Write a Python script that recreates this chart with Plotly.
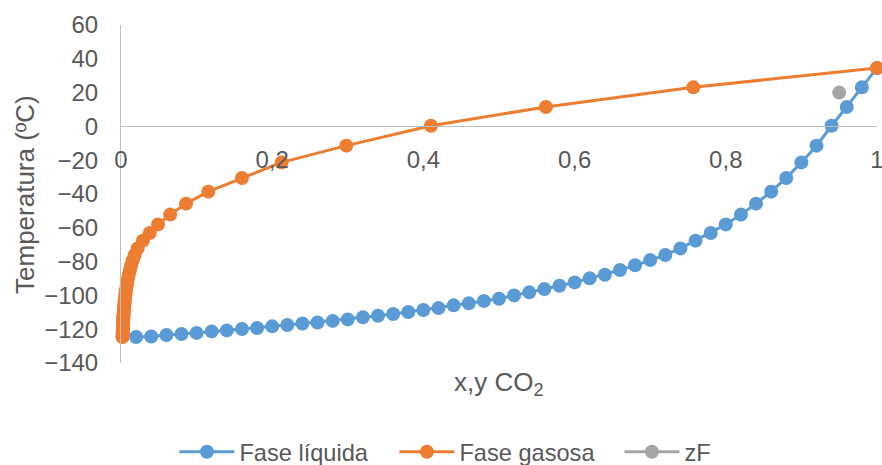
import plotly.graph_objects as go

# Liquid phase: x CO2 and temperature (ºC)
x_liq = [0.02, 0.04, 0.06, 0.08, 0.10, 0.12, 0.14, 0.16, 0.18, 0.20,
         0.22, 0.24, 0.26, 0.28, 0.30, 0.32, 0.34, 0.36, 0.38, 0.40,
         0.42, 0.44, 0.46, 0.48, 0.50, 0.52, 0.54, 0.56, 0.58, 0.60,
         0.62, 0.64, 0.66, 0.68, 0.70, 0.72, 0.74, 0.76, 0.78, 0.80,
         0.82, 0.84, 0.86, 0.88, 0.90, 0.92, 0.94, 0.96, 0.98, 1.00]
temp = [-124.6, -124.3, -123.4, -122.8, -122.2, -121.3, -120.7, -119.9, -119.3, -118.3,
        -117.5, -116.6, -116.0, -115.1, -114.2, -113.0, -112.0, -111.0, -109.8, -108.6,
        -107.5, -105.9, -104.7, -103.3, -102.0, -100.0, -98.2, -96.2, -94.3, -92.3,
        -89.9, -87.8, -85.0, -82.2, -79.1, -76.1, -72.2, -67.6, -63.1, -58.0,
        -52.2, -45.7, -38.6, -30.5, -21.3, -11.4, 0.4, 11.5, 23.1, 34.6]
# Gas phase: y CO2 at the same temperatures
y_gas = [0.0020, 0.0021, 0.0022, 0.0022, 0.0023, 0.0023, 0.0024, 0.0024, 0.0025, 0.0026,
         0.0026, 0.0027, 0.0028, 0.0029, 0.0030, 0.0031, 0.0033, 0.0034, 0.0036, 0.0038,
         0.0040, 0.0043, 0.0046, 0.0049, 0.0052, 0.0057, 0.0062, 0.0068, 0.0075, 0.0083,
         0.0093, 0.0103, 0.0118, 0.0135, 0.0156, 0.0180, 0.0220, 0.0290, 0.038, 0.049,
         0.065, 0.086, 0.1155, 0.160, 0.2125, 0.298, 0.410, 0.562, 0.757, 1.0]
# Feed
zf_x = [0.95]
zf_t = [20]

x_tickvals = [0, 0.2, 0.4, 0.6, 0.8, 1.0]
x_ticktext = ["0", "0,2", "0,4", "0,6", "0,8", "1"]
y_tickvals = [-140, -120, -100, -80, -60, -40, -20, 0, 20, 40, 60]

BLUE = "#5B9BD5"
ORANGE = "#ED7D31"
GREY = "#A5A5A5"
TXT = "#595959"
AX = "#BFBFBF"
FONT = "Liberation Sans, Arial, sans-serif"

fig = go.Figure()
fig.add_trace(go.Scatter(x=x_liq, y=temp, mode="lines+markers", name="Fase líquida",
                         line=dict(color=BLUE, width=3), legendwidth=150,
                         marker=dict(color=BLUE, size=14), cliponaxis=False))
fig.add_trace(go.Scatter(x=y_gas, y=temp, mode="lines+markers", name="Fase gasosa",
                         line=dict(color=ORANGE, width=3), legendwidth=155,
                         marker=dict(color=ORANGE, size=14), cliponaxis=False))
fig.add_trace(go.Scatter(x=zf_x, y=zf_t, mode="lines+markers", name="zF",
                         line=dict(color=GREY, width=3),
                         marker=dict(color=GREY, size=14), cliponaxis=False))

fig.update_layout(
    width=882, height=465,
    margin=dict(l=121, r=5, t=25, b=102, autoexpand=False),
    paper_bgcolor="white", plot_bgcolor="white",
    font=dict(family=FONT, color=TXT, size=24),
    xaxis=dict(range=[0, 1], tickvals=x_tickvals, ticktext=x_ticktext,
               anchor="free", position=0.7, showgrid=False, zeroline=False,
               showline=True, linecolor=AX, linewidth=1, automargin=False,
               ticks="outside", ticklen=12, tickcolor="rgba(0,0,0,0)",
               ticklabeloverflow="allow",
               tickfont=dict(size=24, color=TXT, family=FONT)),
    yaxis=dict(range=[-140, 60], tickvals=y_tickvals, showgrid=False, zeroline=False,
               showline=True, linecolor=AX, linewidth=1, automargin=False,
               ticks="outside", ticklen=17, tickcolor="rgba(0,0,0,0)",
               tickfont=dict(size=24, color=TXT, family=FONT)),
    legend=dict(orientation="h", xref="container", yref="container",
                x=0.505, xanchor="center", y=0.028, yanchor="middle",
                font=dict(size=23.6, color=TXT, family=FONT), itemwidth=55,
                bgcolor="rgba(0,0,0,0)"),
    showlegend=True,
    annotations=[
        dict(text="x,y CO<sub>2</sub>", xref="paper", yref="paper", x=0.5, y=-0.06,
             xanchor="center", yanchor="middle", showarrow=False,
             font=dict(size=26, color=TXT, family=FONT)),
        dict(text="Temperatura (ºC)", xref="paper", yref="paper", x=-0.127, y=0.5,
             xanchor="center", yanchor="middle", textangle=-90, showarrow=False,
             font=dict(size=26, color=TXT, family=FONT)),
    ],
)

fig.write_html("out.html")
